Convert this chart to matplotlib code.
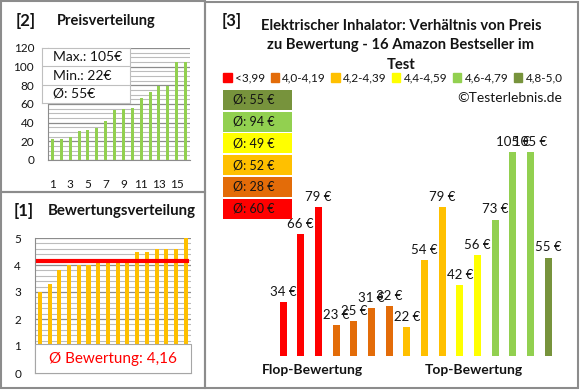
import numpy as np
import matplotlib
matplotlib.use('Agg')
from matplotlib import pyplot as plt
from matplotlib.patches import Rectangle, Patch
from matplotlib.ticker import MultipleLocator

plt.rcParams['font.family'] = ['Lato', 'DejaVu Sans']

# rating classes of the right chart
ratingLabels = ['<3,99', '4,0-4,19', '4,2-4,39', '4,4-4,59', '4,6-4,79', '4,8-5,0']
ratingColors = ['#ff0000', '#e36c09', '#ffc000', '#ffff00', '#92d050', '#77933c']

# prices in the order of the right chart (flop -> top) and their rating class
pricesByRating = [34, 66, 79, 23, 25, 31, 32, 22, 54, 79, 42, 56, 73, 105, 105, 55]
ratingGroup = [0, 0, 0, 1, 1, 1, 1, 2, 2, 2, 3, 3, 4, 4, 4, 5]

# left charts
pricesSorted = [22, 23, 25, 31, 32, 34, 42, 54, 55, 56, 66, 73, 79, 79, 105, 105]
ratingsSorted = [3.0, 3.3, 3.8, 4.0, 4.0, 4.0, 4.1, 4.1, 4.1, 4.1, 4.5, 4.5, 4.6, 4.6, 4.6, 5.0]
ratingAverage = 4.16

title = ['Elektrischer Inhalator: Verhältnis von Preis',
         'zu Bewertung - 16 Amazon Bestseller im',
         'Test']

W, H = 580, 390
textColor = '#141414'
gridMajor = '#8c8c8c'
gridMinor = '#bcbcbc'

fig = plt.figure(figsize=(W / 100, H / 100), dpi=100)


def fx(x):
    return x / W


def fy(y):
    return 1 - y / H


def pxAxes(x0, y0, x1, y1):
    return fig.add_axes([fx(x0), fy(y1), (x1 - x0) / W, (y1 - y0) / H])


def pxRect(x0, y0, x1, y1, **kw):
    r = Rectangle((fx(x0), fy(y1)), (x1 - x0) / W, (y1 - y0) / H,
                  transform=fig.transFigure, **kw)
    fig.patches.append(r)
    return r


# panel borders
for box in [(0.5, 0.5, 205, 192), (0.5, 192, 205, 388), (205, 1.5, 577.5, 388)]:
    pxRect(*box, fill=False, ec='#8c8c8c', lw=1.5)

"""
[2] Preisverteilung
"""
fig.text(fx(16), fy(21), '[2]', fontsize=12, fontweight='bold', va='center', color=textColor)
fig.text(fx(57), fy(21), 'Preisverteilung', fontsize=10.5, fontweight='bold', va='center', color=textColor)

ax1 = pxAxes(48, 48, 190, 160)
idx = np.arange(1, len(pricesSorted) + 1)
ax1.bar(idx, pricesSorted, 0.35, color='#92d050', zorder=3)
ax1.set_xlim(0.5, 16.5)
ax1.set_ylim(0, 120)
ax1.yaxis.set_major_locator(MultipleLocator(20))
ax1.yaxis.set_minor_locator(MultipleLocator(5))
ax1.grid(which='major', axis='y', color=gridMajor, lw=0.9, zorder=0)
ax1.grid(which='minor', axis='y', color=gridMinor, lw=0.8, zorder=0)
ax1.set_xticks(np.arange(1, 16, 2))
ax1.tick_params(axis='x', length=0, pad=14, labelsize=8.5, labelcolor=textColor)
ax1.tick_params(axis='y', which='both', length=0, pad=10, labelsize=8.5, labelcolor=textColor)
for s in ['top', 'right']:
    ax1.spines[s].set_visible(False)
ax1.spines['left'].set_color(gridMajor)
ax1.spines['bottom'].set_color(gridMajor)

# max / min / average box
axBox = pxAxes(42, 48, 130, 103)
axBox.set_xticks([])
axBox.set_yticks([])
for s in axBox.spines.values():
    s.set_color('#bfbfbf')
boxTexts = ['Max.: {}€'.format(max(pricesSorted)),
            'Min.: {}€'.format(min(pricesSorted)),
            'Ø: {}€'.format(round(np.mean(pricesSorted)))]
for i, t in enumerate(boxTexts):
    axBox.text(0.12, 1 - (i + 0.5) / 3, t, fontsize=10, va='center', color=textColor,
               transform=axBox.transAxes)
    if i > 0:
        axBox.axhline(1 - i / 3, color='#bfbfbf', lw=0.8)

"""
[1] Bewertungsverteilung
"""
fig.text(fx(14), fy(211), '[1]', fontsize=12, fontweight='bold', va='center', color=textColor)
fig.text(fx(48), fy(211), 'Bewertungsverteilung', fontsize=10.8, fontweight='bold', va='center', color=textColor)

ax2 = pxAxes(35, 238, 190.7, 373)
ax2.bar(idx, ratingsSorted, 0.42, color='#ffc000', zorder=3)
ax2.plot([0.8, 16.1], [ratingAverage, ratingAverage], color='#ff0000', lw=3, zorder=4)
ax2.set_xlim(0.5, 16.5)
ax2.set_ylim(0, 5)
ax2.yaxis.set_major_locator(MultipleLocator(1))
ax2.yaxis.set_minor_locator(MultipleLocator(0.2))
ax2.grid(which='major', axis='y', color=gridMajor, lw=0.9, zorder=0)
ax2.grid(which='minor', axis='y', color=gridMinor, lw=0.8, zorder=0)
ax2.set_xticks([])
ax2.tick_params(axis='y', which='both', length=0, pad=10, labelsize=8.5, labelcolor=textColor)
for s in ['top', 'right']:
    ax2.spines[s].set_visible(False)
ax2.spines['left'].set_color(gridMajor)
ax2.spines['bottom'].set_color(gridMajor)
ax2.add_patch(Rectangle((0, 0), 1, 29 / 135, transform=ax2.transAxes, fc='white',
                        ec='#a6a6a6', lw=0.8, zorder=6, clip_on=False))
ax2.text(0.5, 14.5 / 135, 'Ø Bewertung: {}'.format(str(ratingAverage).replace('.', ',')),
         transform=ax2.transAxes, ha='center', va='center', fontsize=11,
         color='#ff0000', zorder=7)

"""
[3] Preis zu Bewertung
"""
fig.text(fx(222), fy(21), '[3]', fontsize=12, fontweight='bold', va='center', color=textColor)
for i, line in enumerate(title):
    fig.text(fx(401), fy(26 + i * 19.5), line, fontsize=10.6, fontweight='bold',
             ha='center', va='center', color=textColor)

handles = [Patch(color=c, label=l) for c, l in zip(ratingColors, ratingLabels)]
fig.legend(handles=handles, loc='center', bbox_to_anchor=(fx(393), fy(78)), ncol=6,
           frameon=False, fontsize=8.5, handlelength=0.7, handleheight=0.7,
           handletextpad=0.3, columnspacing=0.45, labelcolor=textColor)

fig.text(fx(562), fy(98), '©Testerlebnis.de', fontsize=10, ha='right', va='center', color=textColor)

ax3 = pxAxes(274.2, 140, 556.9, 356)
colors = [ratingColors[g] for g in ratingGroup]
bars = ax3.bar(idx, pricesByRating, 0.4, color=colors)
ax3.bar_label(bars, labels=['{} €'.format(p) for p in pricesByRating], padding=3,
              fontsize=9.5, color=textColor)
ax3.set_xlim(0.5, 16.5)
ax3.set_ylim(8.3, 110.8)
ax3.axis('off')

fig.text(fx(312), fy(370), 'Flop-Bewertung', fontsize=10, fontweight='bold', ha='center', va='center', color=textColor)
fig.text(fx(474), fy(370), 'Top-Bewertung', fontsize=10, fontweight='bold', ha='center', va='center', color=textColor)

# average price per rating class
groups = np.array(ratingGroup)
prices = np.array(pricesByRating)
for row, g in enumerate(range(len(ratingColors) - 1, -1, -1)):
    top = 90 + row * 21.7
    pxRect(223, top, 292, top + 20, fc=ratingColors[g], ec='none')
    avg = round(prices[groups == g].mean())
    fig.text(fx(233), fy(top + 10), 'Ø: {} €'.format(avg), fontsize=9, va='center', color=textColor)

plt.savefig('out.png', dpi=100)
